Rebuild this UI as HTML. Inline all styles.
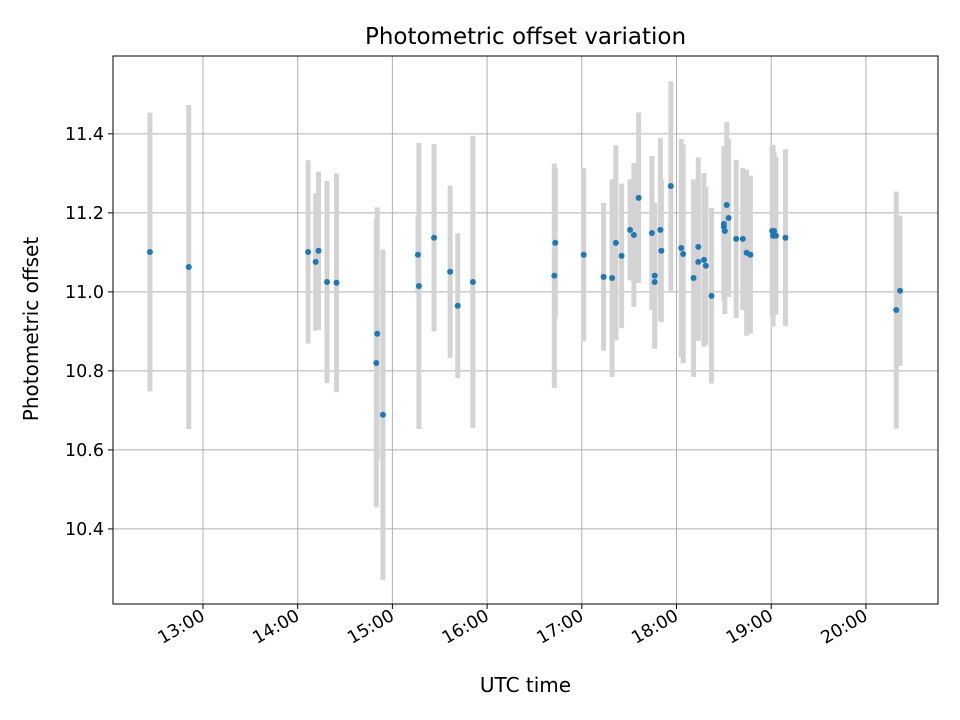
<!DOCTYPE html>
<html><head><meta charset="utf-8"><style>body{margin:0;background:#fff}svg{display:block;font-family:"DejaVu Sans","Liberation Sans",sans-serif}</style></head>
<body>
<svg id="chart" width="960" height="720"></svg>
<script>
const times=[12.44,12.85,14.11,14.19,14.22,14.31,14.41,14.83,14.84,14.90,15.27,15.28,15.44,15.61,15.69,15.85,16.71,16.72,17.02,17.23,17.32,17.36,17.42,17.51,17.55,17.60,17.74,17.77,17.77,17.83,17.84,17.94,18.05,18.07,18.18,18.23,18.23,18.29,18.31,18.37,18.50,18.50,18.51,18.53,18.55,18.63,18.70,18.74,18.78,19.01,19.03,19.02,19.05,19.15,20.32,20.36];
const offsets=[11.101,11.063,11.101,11.076,11.104,11.025,11.023,10.820,10.894,10.689,11.094,11.015,11.137,11.051,10.965,11.025,11.041,11.124,11.094,11.038,11.035,11.124,11.091,11.157,11.144,11.238,11.149,11.041,11.025,11.157,11.104,11.268,11.111,11.096,11.035,11.114,11.076,11.081,11.066,10.990,11.172,11.165,11.154,11.220,11.187,11.134,11.134,11.099,11.094,11.154,11.154,11.142,11.142,11.137,10.954,11.003];
const errors=[0.353,0.41,0.232,0.174,0.2,0.256,0.277,0.365,0.32,0.418,0.1,0.362,0.237,0.218,0.183,0.37,0.284,0.19,0.219,0.187,0.25,0.247,0.183,0.128,0.182,0.216,0.195,0.185,0.15,0.232,0.18,0.265,0.276,0.277,0.25,0.226,0.2,0.22,0.2,0.222,0.197,0.17,0.21,0.21,0.2,0.2,0.18,0.21,0.2,0.215,0.2,0.23,0.2,0.224,0.30,0.19];
const xTicks=[13,14,15,16,17,18,19,20];
const xTickLabels=["13:00","14:00","15:00","16:00","17:00","18:00","19:00","20:00"];
const yTicks=[10.4,10.6,10.8,11.0,11.2,11.4];
const yTickLabels=["10.4","10.6","10.8","11.0","11.2","11.4"];

const L=113,R=938,T=56,B=604,x0=12.050,x1=20.761,y0=10.210,y1=11.597;
const X=t=>L+(t-x0)/(x1-x0)*(R-L);
const Y=v=>B-(v-y0)/(y1-y0)*(B-T);
const svg=document.getElementById('chart');
const NS='http://www.w3.org/2000/svg';
function mk(tag,attrs,parent){const e=document.createElementNS(NS,tag);for(const k in attrs)e.setAttribute(k,attrs[k]);(parent||svg).appendChild(e);return e;}

const grid=mk('g',{});


xTicks.forEach((t,i)=>{
  const gl=mk('line',{x1:X(t),x2:X(t),y1:T,y2:B,stroke:'#b0b0b0','stroke-width':1},grid);
  
  
  const tk=mk('line',{x1:X(t),x2:X(t),y1:B,y2:B+5,stroke:'#000','stroke-width':1});
  
  
  const tx=mk('text',{x:X(t)+3,y:B+15,'font-size':17.5,'text-anchor':'end',transform:`rotate(-30 ${X(t)+3} ${B+15})`});
  tx.textContent=xTickLabels[i];
  
  
});
yTicks.forEach((v,i)=>{
  const gl=mk('line',{x1:L,x2:R,y1:Y(v),y2:Y(v),stroke:'#b0b0b0','stroke-width':1},grid);
  
  
  const tk=mk('line',{x1:L-5,x2:L,y1:Y(v),y2:Y(v),stroke:'#000','stroke-width':1});
  
  
  const tx=mk('text',{x:L-9,y:Y(v)+6,'font-size':17.5,'text-anchor':'end'});
  tx.textContent=yTickLabels[i];
  
  
});
const bars=mk('g',{});


times.forEach((t,i)=>{
  const b=mk('line',{x1:X(t),x2:X(t),y1:Y(offsets[i]+errors[i]),y2:Y(offsets[i]-errors[i]),stroke:'#d3d3d3','stroke-width':5},bars);
  
  
});
const pts=mk('g',{});


times.forEach((t,i)=>{
  const c=mk('circle',{cx:X(t),cy:Y(offsets[i]),r:3,fill:'#1f77b4'},pts);
  
  
});
const frame=mk('rect',{x:L,y:T,width:R-L,height:B-T,fill:'none',stroke:'#000','stroke-width':1});


const title=mk('text',{x:(L+R)/2,y:44,'font-size':23,'text-anchor':'middle'});
title.textContent='Photometric offset variation';


const xt=mk('text',{x:(L+R)/2,y:692,'font-size':20,'text-anchor':'middle'});
xt.textContent='UTC time';


const yt=mk('text',{x:38,y:(T+B)/2-1,'font-size':20,'text-anchor':'middle',transform:`rotate(-90 38 ${(T+B)/2-1})`});
yt.textContent='Photometric offset';


</script>
</body></html>
